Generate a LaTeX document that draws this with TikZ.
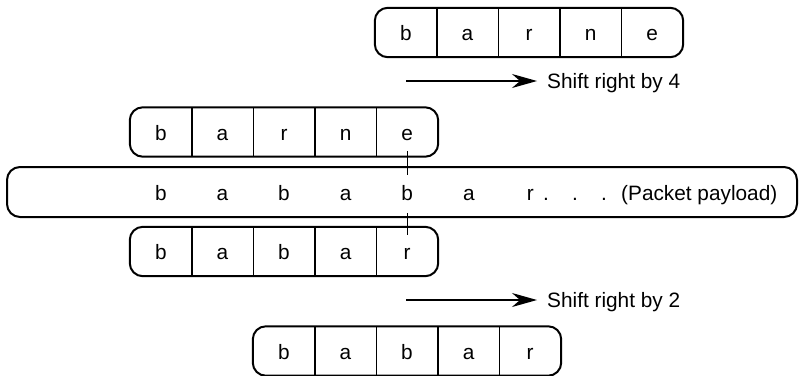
\documentclass[tikz,border=0pt]{standalone}
\usepackage{fontspec}
\setmainfont{Liberation Sans}
\usetikzlibrary{arrows.meta}
\newcommand\wordrow[4]{%
  \foreach \l [count=\i] in {#4} {
    \node[cell] (#1\i) at ({#2+30.8+61.6*(\i-1)},#3) {\l};
  }
  \draw[frame] (#11.north west) rectangle (#15.south east);
  \foreach \j in {1,...,4} {
    \draw[divider] (#1\j.north east) -- (#1\j.south east);
  }
}
\begin{document}
\begin{tikzpicture}[x=1pt,y=-1pt,
  bigfont/.style={font=\fontsize{20.8pt}{25pt}\selectfont},
  cell/.style={bigfont,minimum width=61.6pt,minimum height=49pt,inner sep=0pt,text height=16pt,text depth=0pt},
  frame/.style={draw,line width=2pt,rounded corners=13pt},
  divider/.style={line width=1.5pt},
  txt/.style={bigfont,inner sep=0pt},
  arr/.style={line width=1.4pt,-{Stealth[length=25pt,width=14pt,inset=8pt]},shorten >=10pt},
  tickline/.style={line width=1.1pt}]
\useasboundingbox (0,0) rectangle (799,375);

% rows of patterns
\wordrow{top}{375}{32.5}{b,a,r,n,e}
\wordrow{mid}{130}{132}{b,a,r,n,e}
\wordrow{low}{130}{251.5}{b,a,b,a,r}
\wordrow{bot}{253}{351}{b,a,b,a,r}

% packet payload
\node[frame,minimum width=790pt,minimum height=50pt,inner sep=0pt] (payload) at (402,192) {};
\foreach \l [count=\i] in {b,a,b,a,b,a,r} {
  \node[cell] (p\i) at ({130+30.8+61.6*(\i-1)},192) {\l};
}
\node[txt,anchor=base] (d1) at (546,200) {.};
\node[txt,anchor=base] (d2) at (575,200) {.};
\node[txt,anchor=base] (d3) at (604,200) {.};
\node[txt,anchor=base west] (plabel) at (621,200) {(Packet payload)};

% alignment ticks
\coordinate (t1a) at (407.2,151);
\coordinate (t1b) at (407.2,175);
\coordinate (t2a) at (407.2,213);
\coordinate (t2b) at (407.2,235);
\draw[tickline] (t1a) -- (t1b);
\draw[tickline] (t2a) -- (t2b);

% shift arrows
\node[txt,anchor=base west] (s4) at (547,88) {Shift right by 4};
\coordinate (a1) at (406,81);
\draw[arr] (a1) -- (a1 -| s4.west);
\node[txt,anchor=base west] (s2) at (547,307) {Shift right by 2};
\coordinate (a2) at (406,300);
\draw[arr] (a2) -- (a2 -| s2.west);
\end{tikzpicture}
\end{document}
